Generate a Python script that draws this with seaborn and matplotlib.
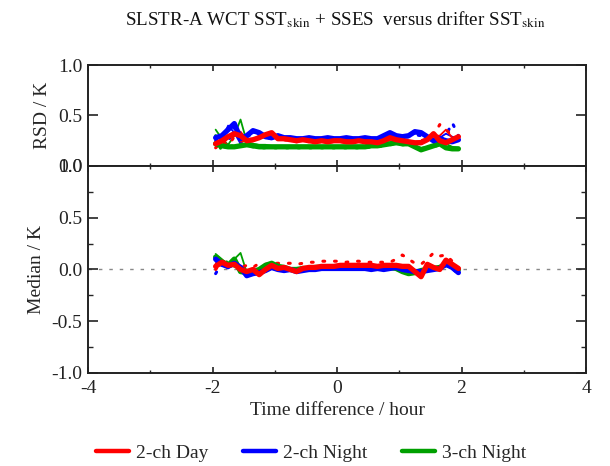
import numpy as np
import pandas as pd
import matplotlib
matplotlib.use("Agg")
import matplotlib.pyplot as plt
from matplotlib.lines import Line2D
from matplotlib.ticker import FixedLocator
import seaborn as sns

# Time-difference bin centres (hours)
hours = [-1.95, -1.85, -1.75, -1.65, -1.55, -1.45, -1.35, -1.25, -1.15, -1.05,
         -0.95, -0.85, -0.75, -0.65, -0.55, -0.45, -0.35, -0.25, -0.15, -0.05,
         0.05, 0.15, 0.25, 0.35, 0.45, 0.55, 0.65, 0.75, 0.85, 0.95,
         1.05, 1.15, 1.25, 1.35, 1.45, 1.55, 1.65, 1.75, 1.85, 1.95]

# Robust standard deviation (K): thick = all, thin / dotted = subsets
rsd_day = [0.22, 0.25, 0.29, 0.32, 0.30, 0.25, 0.26, 0.28, 0.31, 0.33,
           0.27, 0.27, 0.26, 0.25, 0.26, 0.25, 0.24, 0.25, 0.24, 0.25,
           0.25, 0.24, 0.24, 0.25, 0.24, 0.24, 0.23, 0.25, 0.28, 0.26,
           0.25, 0.24, 0.23, 0.23, 0.26, 0.32, 0.25, 0.23, 0.26, 0.29]
rsd_day_thin = [0.22, 0.20, 0.28, 0.30, 0.34, 0.26, 0.27, 0.29, 0.31, 0.32,
                0.28, 0.27, 0.27, 0.26, 0.26, 0.26, 0.25, 0.25, 0.25, 0.25,
                0.25, 0.25, 0.25, 0.25, 0.25, 0.25, 0.24, 0.26, 0.27, 0.27,
                0.26, 0.25, 0.24, 0.25, 0.27, 0.30, 0.30, 0.36, 0.28, 0.28]
rsd_day_dot = [0.18, 0.24, 0.20, 0.29, 0.25, 0.24, 0.25, 0.27, 0.30, 0.31,
               0.26, 0.26, 0.25, 0.24, 0.25, 0.24, 0.24, 0.24, 0.24, 0.24,
               0.24, 0.24, 0.23, 0.24, 0.24, 0.23, 0.23, 0.24, 0.26, 0.25,
               0.25, 0.24, 0.24, 0.25, 0.27, 0.30, 0.41, 0.36, 0.30, 0.25]

rsd_n2 = [0.28, 0.30, 0.36, 0.42, 0.27, 0.30, 0.35, 0.33, 0.29, 0.28,
          0.30, 0.28, 0.28, 0.27, 0.27, 0.28, 0.27, 0.27, 0.28, 0.27,
          0.27, 0.28, 0.27, 0.27, 0.28, 0.27, 0.27, 0.30, 0.33, 0.30,
          0.29, 0.30, 0.34, 0.33, 0.29, 0.25, 0.27, 0.25, 0.24, 0.26]
rsd_n2_thin = [0.30, 0.26, 0.40, 0.33, 0.22, 0.30, 0.33, 0.32, 0.29, 0.28,
               0.29, 0.28, 0.28, 0.27, 0.27, 0.27, 0.27, 0.27, 0.27, 0.27,
               0.27, 0.27, 0.27, 0.27, 0.27, 0.27, 0.28, 0.29, 0.31, 0.30,
               0.29, 0.30, 0.32, 0.32, 0.30, 0.27, 0.28, 0.32, 0.29, 0.27]
rsd_n2_dot = [0.25, 0.32, 0.24, 0.38, 0.25, 0.29, 0.32, 0.31, 0.28, 0.27,
              0.28, 0.27, 0.27, 0.26, 0.26, 0.27, 0.26, 0.26, 0.27, 0.26,
              0.26, 0.27, 0.26, 0.26, 0.27, 0.26, 0.26, 0.28, 0.30, 0.29,
              0.28, 0.29, 0.31, 0.30, 0.28, 0.27, 0.26, 0.30, 0.43, 0.30]

rsd_n3 = [0.22, 0.20, 0.19, 0.19, 0.20, 0.21, 0.20, 0.19, 0.19, 0.19,
          0.19, 0.19, 0.19, 0.19, 0.19, 0.19, 0.19, 0.19, 0.19, 0.19,
          0.19, 0.19, 0.19, 0.19, 0.19, 0.20, 0.20, 0.21, 0.22, 0.23,
          0.22, 0.22, 0.19, 0.16, 0.18, 0.20, 0.22, 0.18, 0.17, 0.17]
rsd_n3_thin = [0.36, 0.27, 0.21, 0.30, 0.46, 0.24, 0.22, 0.21, 0.21, 0.20,
               0.20, 0.20, 0.20, 0.20, 0.20, 0.20, 0.20, 0.20, 0.20, 0.20,
               0.20, 0.20, 0.20, 0.20, 0.20, 0.21, 0.21, 0.22, 0.22, 0.23,
               0.22, 0.21, 0.20, 0.18, 0.19, 0.21, 0.22, 0.22, 0.19, 0.18]
rsd_n3_dot = [0.30, 0.14, 0.24, 0.17, 0.22, 0.20, 0.19, 0.18, 0.18, 0.18,
              0.18, 0.18, 0.18, 0.18, 0.18, 0.18, 0.18, 0.18, 0.18, 0.18,
              0.18, 0.18, 0.18, 0.18, 0.18, 0.19, 0.19, 0.20, 0.21, 0.22,
              0.21, 0.21, 0.19, 0.17, 0.18, 0.19, 0.21, 0.18, 0.17, 0.17]

# Median difference (K)
med_day = [0.03, 0.07, 0.04, 0.05, 0.00, -0.02, 0.00, -0.05, 0.00, 0.04,
           0.01, 0.02, 0.00, -0.02, 0.01, 0.02, 0.02, 0.03, 0.03, 0.03,
           0.04, 0.04, 0.04, 0.04, 0.04, 0.04, 0.03, 0.04, 0.04, 0.04,
           0.03, 0.03, -0.02, -0.07, 0.05, 0.02, 0.00, 0.09, 0.05, 0.01]
med_day_thin = [0.06, 0.09, 0.05, 0.06, 0.02, -0.03, 0.00, -0.04, 0.01, 0.05,
                0.02, 0.02, 0.01, -0.01, 0.01, 0.02, 0.02, 0.03, 0.03, 0.03,
                0.04, 0.04, 0.04, 0.04, 0.04, 0.04, 0.04, 0.04, 0.05, 0.05,
                0.04, 0.03, -0.01, -0.05, 0.04, 0.03, 0.01, 0.08, 0.06, 0.02]
med_day_dot = [0.00, 0.08, 0.06, 0.07, 0.02, 0.04, 0.02, 0.06, 0.05, 0.06,
               0.06, 0.06, 0.06, 0.05, 0.06, 0.07, 0.07, 0.08, 0.08, 0.08,
               0.08, 0.07, 0.08, 0.08, 0.07, 0.07, 0.07, 0.07, 0.07, 0.10,
               0.14, 0.10, 0.06, 0.05, 0.10, 0.16, 0.13, 0.14, 0.08, 0.06]

med_n2 = [0.10, 0.05, 0.03, 0.06, 0.02, -0.06, -0.04, -0.03, -0.01, 0.02,
          0.00, -0.01, 0.00, -0.02, -0.01, 0.00, 0.00, 0.01, 0.01, 0.01,
          0.01, 0.01, 0.01, 0.01, 0.01, 0.00, 0.01, 0.00, 0.01, 0.02,
          0.00, -0.01, -0.02, -0.02, -0.01, 0.00, 0.01, 0.05, 0.02, -0.03]
med_n2_thin = [0.08, 0.04, 0.01, 0.07, 0.03, -0.05, -0.04, -0.02, 0.00, 0.02,
               0.00, -0.01, 0.00, -0.01, -0.01, 0.00, 0.00, 0.01, 0.01, 0.01,
               0.01, 0.01, 0.01, 0.01, 0.01, 0.01, 0.01, 0.01, 0.01, 0.02,
               0.01, 0.00, -0.01, -0.02, -0.01, 0.01, 0.02, 0.04, 0.02, -0.02]
med_n2_dot = [-0.04, 0.06, 0.02, 0.05, 0.01, -0.05, -0.03, -0.03, -0.01, 0.01,
              0.00, -0.01, 0.00, -0.02, -0.01, 0.00, 0.00, 0.00, 0.01, 0.01,
              0.01, 0.01, 0.01, 0.00, 0.01, 0.00, 0.00, 0.00, 0.01, 0.01,
              0.00, -0.01, -0.02, -0.03, -0.01, 0.00, 0.01, 0.04, 0.01, -0.04]

med_n3 = [0.12, 0.07, 0.04, 0.10, -0.02, -0.03, -0.02, 0.00, 0.04, 0.06,
          0.03, 0.02, 0.00, 0.00, 0.01, 0.01, 0.02, 0.02, 0.02, 0.02,
          0.02, 0.02, 0.02, 0.02, 0.02, 0.02, 0.02, 0.01, 0.02, 0.01,
          -0.02, -0.04, -0.03, -0.01, 0.00, 0.01, 0.02, 0.05, 0.03, 0.00]
med_n3_thin = [0.15, 0.10, 0.05, 0.10, 0.16, -0.03, -0.02, 0.01, 0.05, 0.07,
               0.04, 0.02, 0.01, 0.01, 0.01, 0.01, 0.02, 0.02, 0.02, 0.02,
               0.02, 0.02, 0.02, 0.02, 0.02, 0.02, 0.02, 0.02, 0.02, 0.01,
               -0.01, -0.05, -0.03, -0.01, 0.00, 0.01, 0.02, 0.06, 0.03, 0.01]
med_n3_dot = [0.10, 0.05, 0.08, 0.03, 0.06, -0.02, -0.01, 0.01, 0.03, 0.05,
              0.03, 0.02, 0.01, 0.00, 0.01, 0.01, 0.01, 0.02, 0.02, 0.02,
              0.02, 0.02, 0.02, 0.02, 0.02, 0.02, 0.02, 0.01, 0.01, 0.01,
              -0.01, -0.03, -0.02, -0.01, 0.00, 0.01, 0.02, 0.04, 0.02, 0.00]

labels = ["2-ch Day", "2-ch Night", "3-ch Night"]
colors = ["#ff0000", "#0000ff", "#00a000"]

sns.set_style("white")
plt.rcParams["font.family"] = ["Liberation Serif", "DejaVu Serif"]
plt.rcParams["mathtext.fontset"] = "stix"

FS = 14

fig = plt.figure(figsize=(6.10, 4.66), dpi=100)
ax1 = fig.add_axes([0.1443, 0.6438, 0.8164, 0.2167])
ax2 = fig.add_axes([0.1443, 0.1996, 0.8164, 0.4442])

rsd_sets = {
    "2-ch Night": (rsd_n2, rsd_n2_thin, rsd_n2_dot),
    "3-ch Night": (rsd_n3, rsd_n3_thin, rsd_n3_dot),
    "2-ch Day": (rsd_day, rsd_day_thin, rsd_day_dot),
}
med_sets = {
    "2-ch Night": (med_n2, med_n2_thin, med_n2_dot),
    "3-ch Night": (med_n3, med_n3_thin, med_n3_dot),
    "2-ch Day": (med_day, med_day_thin, med_day_dot),
}
col = dict(zip(labels, colors))
draw_order = ["3-ch Night", "2-ch Night", "2-ch Day"]


def draw_panel(ax, sets):
    # dotted and thin subsets first, then the thick all-data curves on top
    for name in draw_order:
        allv, thin, dot = sets[name]
        sns.lineplot(x=hours, y=dot, ax=ax, color=col[name], lw=2.2,
                     linestyle=(0, (0.6, 3.2)), dash_capstyle="round",
                     estimator=None, sort=False, legend=False)
        sns.lineplot(x=hours, y=thin, ax=ax, color=col[name], lw=1.3,
                     estimator=None, sort=False, legend=False)
    for name in draw_order:
        allv, thin, dot = sets[name]
        sns.lineplot(x=hours, y=allv, ax=ax, color=col[name], lw=3.8,
                     estimator=None, sort=False, legend=False)


draw_panel(ax1, rsd_sets)
ax2.axhline(0.0, color="#888888", lw=1.0, linestyle=(0, (2.5, 5)), zorder=0)
draw_panel(ax2, med_sets)

for ax in (ax1, ax2):
    ax.set_xlim(-4, 4)
    ax.xaxis.set_major_locator(FixedLocator([-4, -2, 0, 2, 4]))
    ax.xaxis.set_minor_locator(FixedLocator([-3, -1, 1, 3]))
    ax.tick_params(axis="x", which="major", direction="in", length=4,
                   width=1.2, top=True, bottom=True, pad=5, labelsize=FS,
                   colors="#222222")
    ax.tick_params(axis="x", which="minor", direction="in", length=2,
                   width=1.0, top=True, bottom=True)
    ax.tick_params(axis="y", which="major", direction="in", length=7,
                   width=1.2, left=True, right=True, pad=4, labelsize=FS,
                   colors="#222222")
    ax.tick_params(axis="y", which="minor", direction="in", length=3.5,
                   width=1.0, left=True, right=True)
    for s in ax.spines.values():
        s.set_linewidth(1.4)
        s.set_color("#222222")
    ax.set_xlabel("")
    ax.set_ylabel("")

ax1.set_ylim(0, 1.0)
ax1.yaxis.set_major_locator(FixedLocator([0.0, 0.5, 1.0]))
ax1.set_yticklabels(["0.0", "0.5", "1.0"])
ax1.tick_params(axis="x", labelbottom=False)
ax1.set_ylabel("RSD / K", fontsize=FS)
ax1.yaxis.set_label_coords(-0.074, 0.5)

ax2.set_ylim(-1.0, 1.0)
ax2.yaxis.set_major_locator(FixedLocator([-1.0, -0.5, 0.0, 0.5, 1.0]))
ax2.yaxis.set_minor_locator(FixedLocator([-0.75, -0.25, 0.25, 0.75]))
ax2.set_yticklabels(["-1.0", "-0.5", "0.0", "0.5", "1.0"])
ax2.set_xticklabels(["-4", "-2", "0", "2", "4"])
ax2.set_ylabel("Median / K", fontsize=FS)
ax2.yaxis.set_label_coords(-0.087, 0.5)
ax2.set_xlabel("Time difference / hour", fontsize=FS, labelpad=4)

fig.text(0.549, 0.958,
         r"SLSTR-A WCT SST$_{\mathrm{skin}}$ + SSES  versus drifter SST$_{\mathrm{skin}}$",
         ha="center", va="center", fontsize=13.7, color="#111111")

handles = [Line2D([0], [0], color=c, lw=3.2) for c in colors]
fig.legend(handles, labels, loc="lower center", bbox_to_anchor=(0.51, -0.028),
           ncol=3, frameon=False, fontsize=FS, handlelength=1.7,
           columnspacing=1.8, handletextpad=0.35)

fig.savefig("out.png", dpi=100)
